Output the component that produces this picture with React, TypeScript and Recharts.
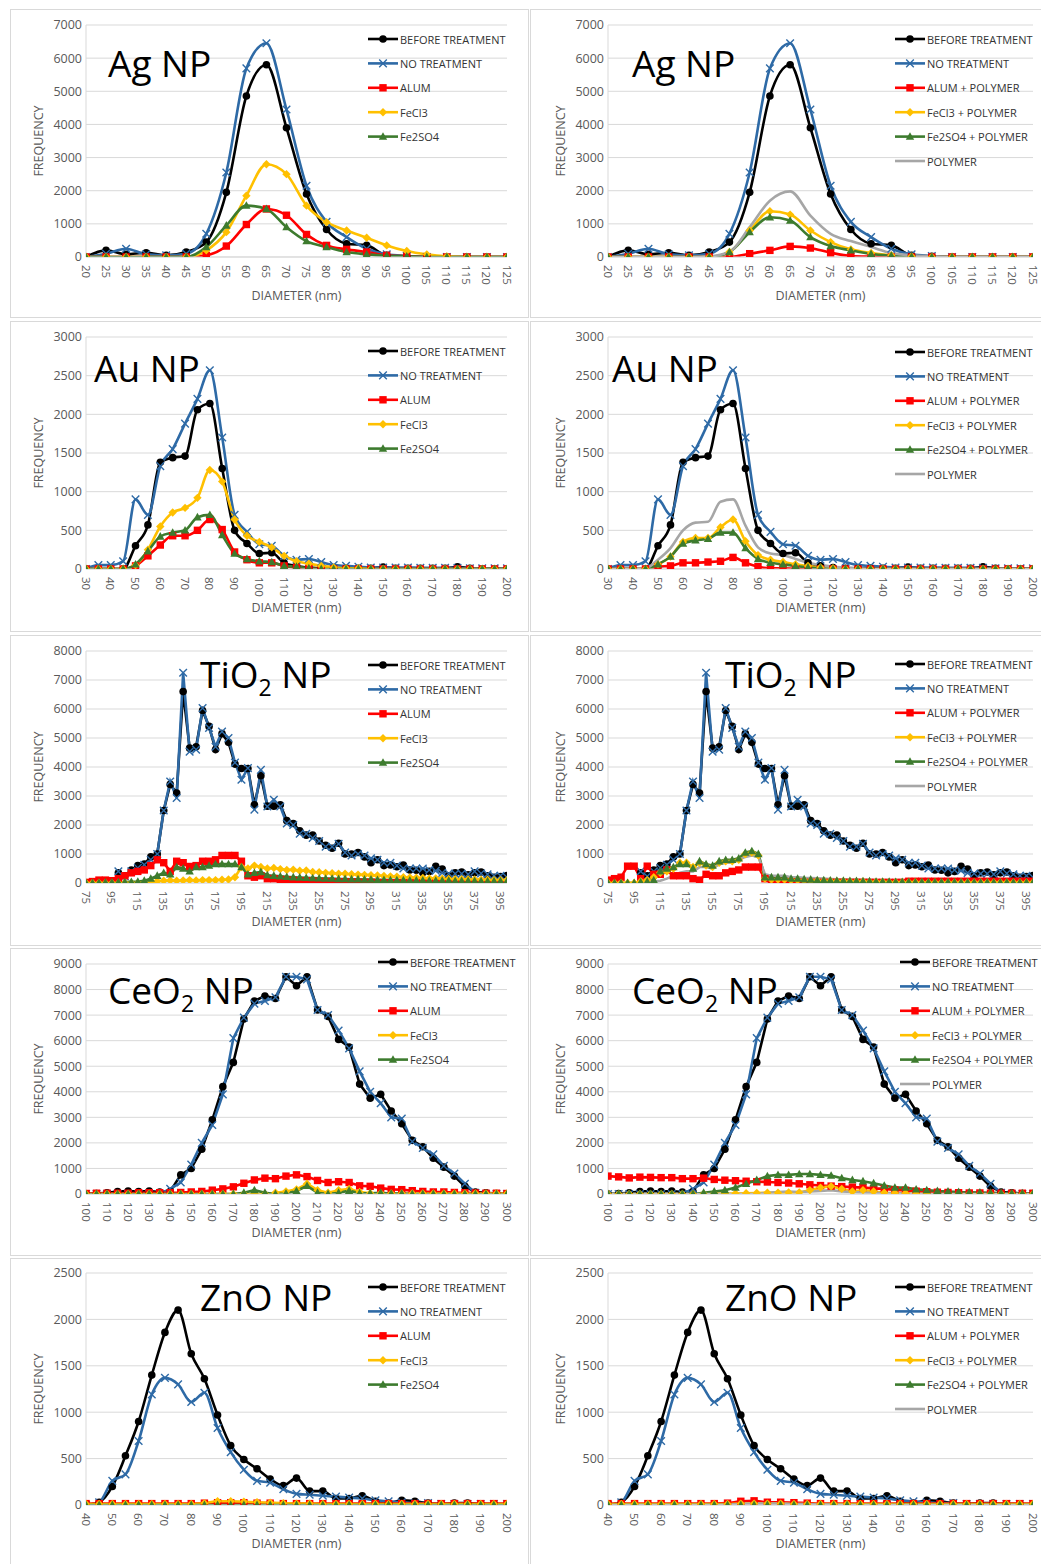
import React from 'react';
import { LineChart, Line, XAxis, YAxis, CartesianGrid } from 'recharts';

// ---------- Ag NP ----------
const agX = [20, 25, 30, 35, 40, 45, 50, 55, 60, 65, 70, 75, 80, 85, 90, 95, 100, 105, 110, 115, 120, 125];
const agXTicks = [20, 25, 30, 35, 40, 45, 50, 55, 60, 65, 70, 75, 80, 85, 90, 95, 100, 105, 110, 115, 120, 125];
const agYTicks = [0, 1000, 2000, 3000, 4000, 5000, 6000, 7000];
const agBefore = [0, 200, 80, 130, 50, 150, 450, 1950, 4860, 5800, 3900, 1900, 830, 400, 350, 50, 20, 0, 0, 0, 0, 0];
const agNoTreat = [0, 100, 250, 80, 50, 100, 700, 2550, 5690, 6450, 4450, 2150, 1060, 600, 250, 80, 30, 0, 0, 0, 0, 0];
const agAlum = [0, 0, 0, 0, 0, 0, 50, 330, 980, 1450, 1260, 680, 350, 230, 150, 50, 20, 0, 0, 0, 0, 0];
const agFeCl3 = [0, 0, 0, 0, 0, 0, 200, 750, 1850, 2800, 2500, 1550, 1050, 800, 580, 350, 180, 80, 20, 0, 0, 0];
const agFe2SO4 = [0, 0, 0, 0, 0, 0, 300, 950, 1550, 1450, 900, 480, 300, 150, 80, 40, 20, 0, 0, 0, 0, 0];
const agAlumPoly = [0, 0, 0, 0, 0, 0, 0, 100, 200, 320, 270, 130, 30, 10, 0, 0, 0, 0, 0, 0, 0, 0];
const agFeCl3Poly = [0, 0, 0, 0, 0, 0, 150, 800, 1380, 1280, 800, 450, 230, 120, 50, 20, 0, 0, 0, 0, 0, 0];
const agFe2SO4Poly = [0, 0, 0, 0, 0, 0, 150, 750, 1200, 1100, 600, 330, 200, 90, 40, 10, 0, 0, 0, 0, 0, 0];
const agPolymer = [0, 0, 0, 0, 0, 20, 150, 900, 1700, 1980, 1250, 700, 480, 300, 120, 50, 20, 0, 0, 0, 0, 0];

// ---------- Au NP ----------
const auX = [30, 35, 40, 45, 50, 55, 60, 65, 70, 75, 80, 85, 90, 95, 100, 105, 110, 115, 120, 125,
  130, 135, 140, 145, 150, 155, 160, 165, 170, 175, 180, 185, 190, 195, 200];
const auXTicks = [30, 40, 50, 60, 70, 80, 90, 100, 110, 120, 130, 140, 150, 160, 170, 180, 190, 200];
const auYTicks = [0, 500, 1000, 1500, 2000, 2500, 3000];
const auBefore = [0, 0, 0, 0, 300, 570, 1380, 1440, 1460, 2060, 2140, 1300, 500, 330, 200, 210, 80, 40, 20, 10,
  10, 10, 10, 10, 25, 10, 10, 10, 10, 10, 30, 10, 0, 0, 0];
const auNoTreat = [0, 50, 50, 100, 900, 700, 1330, 1550, 1880, 2200, 2570, 1700, 700, 480, 320, 300, 170, 120, 130, 90,
  50, 40, 30, 20, 20, 20, 20, 15, 15, 15, 15, 10, 10, 10, 10];
const auAlum = [0, 0, 0, 0, 40, 170, 310, 430, 430, 500, 640, 510, 220, 120, 80, 80, 40, 20, 10, 0,
  0, 0, 0, 0, 0, 0, 0, 0, 0, 0, 0, 0, 0, 0, 0];
const auFeCl3 = [0, 0, 0, 0, 50, 250, 550, 730, 790, 920, 1280, 1130, 640, 430, 350, 280, 170, 100, 70, 40,
  20, 10, 10, 0, 0, 0, 0, 0, 0, 0, 0, 0, 0, 0, 0];
const auFe2SO4 = [0, 0, 0, 0, 60, 230, 420, 470, 500, 670, 700, 440, 200, 130, 100, 90, 40, 30, 10, 0,
  0, 0, 0, 0, 0, 0, 0, 0, 0, 0, 0, 0, 0, 0, 0];
const auAlumPoly = [0, 0, 0, 0, 30, 40, 80, 80, 90, 100, 150, 80, 30, 10, 10, 0, 0, 0, 0, 0,
  0, 0, 0, 0, 0, 0, 0, 0, 0, 0, 0, 0, 0, 0, 0];
const auFeCl3Poly = [0, 0, 0, 0, 60, 160, 350, 400, 400, 540, 640, 360, 180, 120, 90, 60, 40, 20, 10, 0,
  0, 0, 0, 0, 0, 0, 0, 0, 0, 0, 0, 0, 0, 0, 0];
const auFe2SO4Poly = [0, 0, 0, 0, 60, 160, 330, 370, 390, 470, 470, 270, 130, 80, 60, 40, 20, 10, 0, 0,
  0, 0, 0, 0, 0, 0, 0, 0, 0, 0, 0, 0, 0, 0, 0];
const auPolymer = [0, 0, 0, 10, 120, 270, 500, 600, 610, 870, 900, 560, 280, 200, 180, 130, 80, 50, 30, 20,
  10, 0, 0, 0, 0, 0, 0, 0, 0, 0, 0, 0, 0, 0, 0];

// ---------- TiO2 NP ----------
const tiX = [75, 80, 85, 90, 95, 100, 105, 110, 115, 120,
  125, 130, 135, 140, 145, 150, 155, 160, 165, 170,
  175, 180, 185, 190, 195, 200, 205, 210, 215, 220,
  225, 230, 235, 240, 245, 250, 255, 260, 265, 270,
  275, 280, 285, 290, 295, 300, 305, 310, 315, 320,
  325, 330, 335, 340, 345, 350, 355, 360, 365, 370,
  375, 380, 385, 390, 395, 400];
const tiXTicks = [75, 95, 115, 135, 155, 175, 195, 215, 235, 255, 275, 295, 315, 335, 355, 375, 395];
const tiYTicks = [0, 1000, 2000, 3000, 4000, 5000, 6000, 7000, 8000];
const tiBefore = [null, null, null, null, null, 350, 250, 450, 600, 650,
  900, 1000, 2500, 3400, 3100, 6600, 4650, 4700, 5950, 5400,
  4600, 5150, 4850, 4100, 3950, 3950, 2700, 3700, 2650, 2650,
  2700, 2150, 2050, 1800, 1650, 1650, 1450, 1300, 1200, 1370,
  1000, 1000, 1050, 900, 700, 800, 600, 620, 560, 620,
  450, 440, 350, 400, 580, 480, 250, 350, 380, 280,
  350, 380, 250, 200, 220, 260];
const tiNoTreat = [null, null, null, null, null, 400, 230, 400, 520, 630,
  800, 1000, 2500, 3500, 2930, 7250, 4530, 4600, 6030, 5350,
  4700, 5220, 5000, 4150, 3560, 3960, 2530, 3900, 2640, 2870,
  2640, 2050, 2000, 1700, 1700, 1550, 1450, 1250, 1250, 1350,
  1050, 950, 1000, 950, 850, 800, 700, 700, 600, 500,
  500, 500, 500, 450, 420, 350, 330, 320, 320, 300,
  400, 330, 300, 250, 250, 200];
const tiAlum = [20, 50, 100, 100, 80, 150, 250, 350, 400, 450,
  600, 800, 700, 400, 750, 700, 570, 600, 750, 750,
  800, 950, 950, 950, 750, 250, 200, 250, 150, 150,
  120, 100, 90, 80, 70, 60, 50, 50, 40, 40,
  30, 30, 20, 20, 20, 10, 10, 10, 10, 0,
  0, 0, 0, 0, 0, 0, 0, 0, 0, 0,
  0, 0, 0, 0, 0, 0];
const tiFeCl3 = [0, 0, 0, 0, 0, 0, 0, 0, 0, 0,
  20, 60, 80, 90, 80, 90, 100, 90, 100, 100,
  100, 110, 120, 200, 550, 500, 600, 550, 500, 520,
  480, 450, 460, 420, 430, 380, 370, 350, 340, 320,
  320, 300, 290, 280, 270, 260, 240, 230, 220, 200,
  190, 180, 170, 160, 160, 150, 140, 130, 130, 120,
  120, 110, 110, 100, 100, 100];
const tiFe2SO4 = [0, 0, 10, 20, 20, 30, 30, 40, 50, 80,
  150, 250, 350, 300, 550, 500, 400, 550, 550, 600,
  650, 650, 650, 650, 550, 300, 350, 380, 270, 250,
  230, 210, 200, 190, 180, 170, 160, 150, 150, 140,
  140, 130, 130, 120, 120, 110, 110, 100, 100, 100,
  90, 90, 90, 80, 80, 80, 80, 70, 70, 70,
  70, 60, 60, 60, 60, 60];
const tiAlumPoly = [100, 150, 200, 580, 580, 150, 580, 300, 300, 450,
  250, 250, 250, 150, 100, 300, 250, 250, 350, 400,
  450, 550, 550, 550, 150, 50, 50, 50, 40, 30,
  20, 20, 20, 20, 20, 20, 20, 20, 20, 20,
  20, 20, 20, 20, 20, 20, 60, 60, 60, 60,
  60, 60, 60, 60, 60, 60, 60, 60, 60, 60,
  60, 60, 60, 60, 60, 60];
const tiFeCl3Poly = [0, 0, 0, 0, 0, 50, 100, 200, 350, 400,
  500, 700, 700, 550, 700, 600, 550, 700, 750, 750,
  800, 1000, 1050, 950, 150, 120, 120, 120, 100, 100,
  90, 80, 80, 70, 70, 60, 60, 50, 50, 50,
  40, 40, 40, 30, 30, 30, 30, 30, 20, 20,
  20, 20, 20, 20, 20, 20, 20, 20, 20, 20,
  20, 20, 20, 20, 20, 20];
const tiFe2SO4Poly = [0, 0, 0, 0, 0, 30, 50, 100, 400, 500,
  550, 650, 650, 500, 750, 650, 600, 750, 800, 800,
  850, 1050, 1100, 1000, 200, 200, 200, 200, 150, 150,
  130, 120, 100, 100, 90, 80, 80, 70, 70, 60,
  60, 50, 50, 50, 40, 40, 40, 30, 30, 30,
  30, 30, 30, 30, 20, 20, 20, 20, 20, 20,
  20, 20, 20, 20, 20, 20];
const tiPolymer = [0, 0, 0, 0, 0, 20, 30, 50, 80, 150,
  250, 350, 400, 400, 550, 550, 500, 650, 700, 700,
  800, 900, 950, 900, 300, 250, 250, 250, 200, 200,
  180, 170, 160, 150, 140, 130, 130, 120, 120, 110,
  110, 100, 100, 100, 100, 100, 90, 90, 90, 90,
  90, 90, 80, 80, 80, 80, 80, 80, 80, 80,
  80, 80, 80, 80, 80, 80];

// ---------- CeO2 NP ----------
const ceX = [100, 105, 110, 115, 120, 125, 130, 135, 140, 145,
  150, 155, 160, 165, 170, 175, 180, 185, 190, 195,
  200, 205, 210, 215, 220, 225, 230, 235, 240, 245,
  250, 255, 260, 265, 270, 275, 280, 285, 290, 295, 300];
const ceXTicks = [100, 110, 120, 130, 140, 150, 160, 170, 180, 190, 200, 210, 220, 230, 240, 250, 260, 270, 280, 290, 300];
const ceYTicks = [0, 1000, 2000, 3000, 4000, 5000, 6000, 7000, 8000, 9000];
const ceBefore = [0, 20, 50, 100, 120, 100, 120, 80, 100, 750,
  1000, 1750, 2900, 4200, 5150, 6850, 7550, 7750, 7650, 8500,
  8150, 8500, 7200, 6950, 6050, 5750, 4300, 3750, 3900, 3250,
  2750, 2100, 1850, 1400, 1050, 700, 300, 80, 50, 20, 0];
const ceNoTreat = [0, 0, 0, 0, 0, 0, 0, 0, 200, 450,
  1150, 2000, 2700, 3900, 6100, 6900, 7450, 7550, 7700, 8500,
  8500, 8400, 7200, 7000, 6400, 5700, 4800, 4000, 3550, 3000,
  2950, 2050, 1800, 1550, 1100, 800, 400, 50, 0, 0, 0];
const ceAlum = [20, 30, 30, 30, 30, 50, 50, 50, 50, 60,
  80, 100, 150, 200, 280, 420, 550, 620, 600, 700,
  750, 680, 530, 450, 480, 450, 320, 300, 230, 180,
  170, 130, 100, 80, 80, 60, 50, 40, 30, 30, 20];
const ceFeCl3 = [0, 0, 0, 0, 0, 0, 0, 0, 0, 0,
  0, 0, 0, 0, 0, 0, 0, 0, 50, 100,
  180, 400, 150, 50, 150, 200, 80, 30, 30, 20,
  20, 20, 20, 20, 20, 20, 20, 20, 20, 20, 20];
const ceFe2SO4 = [0, 0, 0, 0, 0, 0, 0, 0, 0, 0,
  0, 0, 0, 0, 0, 50, 150, 50, 0, 20,
  120, 320, 50, 0, 50, 130, 30, 30, 50, 20,
  20, 0, 0, 0, 0, 0, 0, 0, 0, 0, 0];
const ceAlumPoly = [700, 670, 630, 660, 650, 640, 640, 600, 600, 620,
  570, 540, 520, 500, 480, 470, 450, 430, 400, 360,
  330, 310, 290, 270, 250, 220, 200, 160, 140, 110,
  90, 70, 60, 50, 40, 40, 30, 30, 30, 30, 30];
const ceFeCl3Poly = [0, 0, 0, 0, 0, 0, 0, 0, 0, 0,
  20, 20, 20, 30, 40, 50, 50, 60, 60, 150,
  250, 300, 200, 100, 150, 100, 50, 40, 30, 0,
  0, 0, 0, 0, 0, 0, 0, 0, 0, 0, 0];
const ceFe2SO4Poly = [0, 0, 0, 0, 0, 0, 0, 0, 0, 50,
  100, 150, 250, 400, 550, 700, 750, 750, 780, 780,
  750, 720, 620, 550, 500, 420, 330, 250, 250, 180,
  150, 120, 100, 80, 70, 60, 50, 40, 30, 30, 20];
const cePolymer = [0, 0, 0, 0, 0, 0, 0, 0, 0, 0,
  0, 0, 0, 0, 0, 50, 80, 100, 80, 100,
  120, 150, 100, 80, 60, 50, 40, 30, 20, 0,
  0, 0, 0, 0, 0, 0, 0, 0, 0, 0, 0];

// ---------- ZnO NP ----------
const znX = [40, 45, 50, 55, 60, 65, 70, 75, 80, 85,
  90, 95, 100, 105, 110, 115, 120, 125, 130, 135,
  140, 145, 150, 155, 160, 165, 170, 175, 180, 185,
  190, 195, 200];
const znXTicks = [40, 50, 60, 70, 80, 90, 100, 110, 120, 130, 140, 150, 160, 170, 180, 190, 200];
const znYTicks = [0, 500, 1000, 1500, 2000, 2500];
const znBefore = [0, 30, 200, 530, 900, 1400, 1860, 2100, 1630, 1360,
  970, 640, 490, 390, 280, 210, 290, 150, 150, 70,
  70, 100, 40, 20, 50, 40, 20, 10, 20, 20,
  10, 10, 0];
const znNoTreat = [0, 30, 260, 330, 690, 1190, 1370, 1300, 1110, 1210,
  830, 570, 380, 260, 240, 170, 120, 110, 100, 90,
  80, 70, 50, 40, 30, 20, 20, 10, 10, 10,
  10, 10, 10];
const znAlum = [15, 15, 15, 15, 15, 15, 15, 15, 15, 20,
  25, 25, 25, 20, 20, 15, 15, 15, 15, 15,
  15, 15, 15, 15, 15, 15, 15, 15, 15, 15,
  15, 15, 15];
const znFeCl3 = [10, 10, 10, 10, 10, 10, 10, 10, 10, 20,
  40, 40, 35, 30, 25, 20, 15, 15, 10, 10,
  10, 10, 10, 10, 10, 10, 10, 10, 10, 10,
  10, 10, 10];
const znFe2SO4 = [0, 0, 0, 0, 0, 0, 0, 0, 0, 0,
  0, 0, 0, 0, 0, 0, 0, 0, 0, 0,
  0, 0, 0, 0, 0, 0, 0, 0, 0, 0,
  0, 0, 0];
const znAlumPoly = [15, 15, 15, 15, 15, 15, 15, 15, 15, 20,
  40, 45, 30, 30, 25, 20, 15, 15, 15, 15,
  15, 15, 15, 15, 15, 15, 15, 15, 15, 15,
  15, 15, 15];
const znFeCl3Poly = [10, 10, 10, 10, 10, 10, 10, 10, 10, 10,
  15, 15, 15, 15, 10, 10, 10, 10, 10, 10,
  10, 10, 10, 10, 10, 10, 10, 10, 10, 10,
  10, 10, 10];
const znFe2SO4Poly = [0, 0, 0, 0, 0, 0, 0, 0, 0, 0,
  0, 0, 0, 0, 0, 0, 0, 0, 0, 0,
  0, 0, 0, 0, 0, 0, 0, 0, 0, 0,
  0, 0, 0];
const znPolymer = [0, 0, 0, 0, 0, 0, 0, 0, 0, 5,
  10, 15, 15, 15, 10, 10, 5, 5, 0, 0,
  0, 0, 0, 0, 0, 0, 0, 0, 0, 0,
  0, 0, 0];

const LEFT_NAMES = ['BEFORE TREATMENT', 'NO TREATMENT', 'ALUM', 'FeCl3', 'Fe2SO4'];
const RIGHT_NAMES = ['BEFORE TREATMENT', 'NO TREATMENT', 'ALUM + POLYMER', 'FeCl3 + POLYMER', 'Fe2SO4 + POLYMER', 'POLYMER'];
const COLORS = ['#000000', '#2e6aa6', '#ff0000', '#ffc000', '#3d7b2e', '#a6a6a6'];
const SHAPES = ['circle', 'x', 'square', 'diamond', 'triangle', 'none'];

const FONT = "'Open Sans', Lato, sans-serif";
const TEXT_GRAY = '#595959';

function marker(shape: string, color: string, cx: number, cy: number, key?: string) {
  switch (shape) {
    case 'circle':
      return <circle key={key} cx={cx} cy={cy} r={3.8} fill={color} />;
    case 'x':
      return (
        <path key={key} d={`M${cx - 3.8},${cy - 3.8}L${cx + 3.8},${cy + 3.8}M${cx - 3.8},${cy + 3.8}L${cx + 3.8},${cy - 3.8}`}
          stroke={color} strokeWidth={1.4} fill="none" />
      );
    case 'square':
      return <rect key={key} x={cx - 3.7} y={cy - 3.7} width={7.4} height={7.4} fill={color} />;
    case 'diamond':
      return <path key={key} d={`M${cx},${cy - 4.2}L${cx + 4.2},${cy}L${cx},${cy + 4.2}L${cx - 4.2},${cy}Z`} fill={color} />;
    case 'triangle':
      return <path key={key} d={`M${cx},${cy - 4.4}L${cx + 4.2},${cy + 3.2}L${cx - 4.2},${cy + 3.2}Z`} fill={color} />;
    default:
      return <g key={key} />;
  }
}

const XTick = (props: any) => {
  const { x, y, payload } = props;
  const ty = y + 8;
  return (
    <text x={x} y={ty} transform={`rotate(90 ${x} ${ty})`} textAnchor="start" dominantBaseline="central"
      fontSize={11.5} fill={TEXT_GRAY} fontFamily={FONT}>
      {payload.value}
    </text>
  );
};

type Title = { a: string; sub?: string; b?: string };

function Panel(props: any) {
  const { col, row, x, xTicks, yTicks, series, names, curve, title, titleX, titleY, legendX, legendY } = props;
  const { left, width, plotLeft, plotRight } = col;
  const { top, height, plotTop, plotBottom } = row;
  const xAxisH = 30;
  const rows = x.map((d: number, i: number) => {
    const r: any = { d };
    series.forEach((s: (number | null)[], k: number) => { r['s' + k] = s[i]; });
    return r;
  });
  const t: Title = title;
  const fy = (plotTop + plotBottom) / 2;

  return (
    <div style={{ position: 'absolute', left, top, width, height }}>
      <LineChart width={width} height={height} data={rows}
        margin={{ top: plotTop, right: width - plotRight, left: 0, bottom: height - plotBottom - xAxisH }}>
        <CartesianGrid vertical={false} stroke="#d9d9d9" />
        <XAxis dataKey="d" type="number" domain={[x[0], x[x.length - 1]]} ticks={xTicks} interval={0}
          height={xAxisH} tickLine={false} tickSize={0} tickMargin={0} axisLine={{ stroke: '#d9d9d9' }}
          tick={<XTick />} allowDataOverflow />
        <YAxis type="number" domain={[0, yTicks[yTicks.length - 1]]} ticks={yTicks} interval={0} width={plotLeft}
          tickLine={false} tickSize={0} tickMargin={4} axisLine={{ stroke: '#d9d9d9' }}
          tick={{ fill: TEXT_GRAY, fontSize: 12.5, fontFamily: FONT }} allowDataOverflow />
        {series.map((_s: any, k: number) => (
          <Line key={k} dataKey={'s' + k} type={curve} stroke={COLORS[k]} strokeWidth={2.6}
            dot={SHAPES[k] === 'none' ? false : (p: any) =>
              p.cx == null || p.cy == null
                ? <g key={`e${k}-${p.index}`} />
                : marker(SHAPES[k], COLORS[k], p.cx, p.cy, `m${k}-${p.index}`)}
            activeDot={false} connectNulls={false} isAnimationActive={false} />
        ))}
      </LineChart>
      <svg width={width} height={height} style={{ position: 'absolute', left: 0, top: 0, pointerEvents: 'none' }}
        fontFamily={FONT}>
        <text x={titleX} y={titleY} fontSize={37} fill="#000">
          <tspan>{t.a}</tspan>
          {t.sub ? <tspan dy={8} fontSize={23}>{t.sub}</tspan> : null}
          {t.b ? <tspan dy={t.sub ? -8 : 0}>{t.b}</tspan> : null}
        </text>
        <text x={plotLeft - 48} y={fy} transform={`rotate(-90 ${plotLeft - 48} ${fy})`}
          textAnchor="middle" dominantBaseline="central" fontSize={12.5} fill={TEXT_GRAY}>FREQUENCY</text>
        <text x={(plotLeft + plotRight) / 2} y={plotBottom + 38} textAnchor="middle" dominantBaseline="central"
          fontSize={12.5} fill={TEXT_GRAY}>DIAMETER (nm)</text>
        {names.map((n: string, k: number) => {
          const y = legendY + k * 24.4;
          return (
            <g key={n}>
              <line x1={legendX} x2={legendX + 30} y1={y} y2={y} stroke={COLORS[k]} strokeWidth={2.6} />
              {marker(SHAPES[k], COLORS[k], legendX + 15, y)}
              <text x={legendX + 32} y={y} dominantBaseline="central" fontSize={11} fill="#333333">{n}</text>
            </g>
          );
        })}
      </svg>
    </div>
  );
}

const COL_L = { left: 0, width: 530, plotLeft: 86, plotRight: 507 };
const COL_R = { left: 530, width: 511, plotLeft: 78, plotRight: 503 };
const ROW1 = { top: 0, height: 318, plotTop: 25, plotBottom: 257 };
const ROW2 = { top: 320, height: 312, plotTop: 17, plotBottom: 249 };
const ROW3 = { top: 635, height: 311, plotTop: 16, plotBottom: 248 };
const ROW4 = { top: 948, height: 308, plotTop: 16, plotBottom: 246 };
const ROW5 = { top: 1258, height: 306, plotTop: 15, plotBottom: 247 };

const BOXES = [
  { top: 9, bottom: 318 },
  { top: 321, bottom: 632 },
  { top: 635, bottom: 946 },
  { top: 948, bottom: 1256 },
  { top: 1258, bottom: 1570 },
];

export default function App() {
  return (
    <div style={{ position: 'absolute', left: 0, top: 0, width: 1041, height: 1564, background: '#fff', overflow: 'hidden', fontFamily: FONT }}>
      {BOXES.map((b, i) => (
        <React.Fragment key={i}>
          <div style={{ position: 'absolute', left: 10, top: b.top, width: 519, height: b.bottom - b.top, border: '1px solid #d9d9d9', boxSizing: 'border-box' }} />
          <div style={{ position: 'absolute', left: 530, top: b.top, width: 520, height: b.bottom - b.top, border: '1px solid #d9d9d9', boxSizing: 'border-box' }} />
        </React.Fragment>
      ))}

      <Panel col={COL_L} row={ROW1} x={agX} xTicks={agXTicks} yTicks={agYTicks} curve="monotone"
        series={[agBefore, agNoTreat, agAlum, agFeCl3, agFe2SO4]} names={LEFT_NAMES}
        title={{ a: 'Ag NP' }} titleX={108} titleY={77} legendX={368} legendY={39} />
      <Panel col={COL_R} row={ROW1} x={agX} xTicks={agXTicks} yTicks={agYTicks} curve="monotone"
        series={[agBefore, agNoTreat, agAlumPoly, agFeCl3Poly, agFe2SO4Poly, agPolymer]} names={RIGHT_NAMES}
        title={{ a: 'Ag NP' }} titleX={102} titleY={77} legendX={365} legendY={39} />

      <Panel col={COL_L} row={ROW2} x={auX} xTicks={auXTicks} yTicks={auYTicks} curve="monotone"
        series={[auBefore, auNoTreat, auAlum, auFeCl3, auFe2SO4]} names={LEFT_NAMES}
        title={{ a: 'Au NP' }} titleX={94} titleY={62} legendX={368} legendY={31} />
      <Panel col={COL_R} row={ROW2} x={auX} xTicks={auXTicks} yTicks={auYTicks} curve="monotone"
        series={[auBefore, auNoTreat, auAlumPoly, auFeCl3Poly, auFe2SO4Poly, auPolymer]} names={RIGHT_NAMES}
        title={{ a: 'Au NP' }} titleX={82} titleY={62} legendX={365} legendY={32} />

      <Panel col={COL_L} row={ROW3} x={tiX} xTicks={tiXTicks} yTicks={tiYTicks} curve="linear"
        series={[tiBefore, tiNoTreat, tiAlum, tiFeCl3, tiFe2SO4]} names={LEFT_NAMES}
        title={{ a: 'TiO', sub: '2', b: ' NP' }} titleX={200} titleY={53} legendX={368} legendY={30} />
      <Panel col={COL_R} row={ROW3} x={tiX} xTicks={tiXTicks} yTicks={tiYTicks} curve="linear"
        series={[tiBefore, tiNoTreat, tiAlumPoly, tiFeCl3Poly, tiFe2SO4Poly, tiPolymer]} names={RIGHT_NAMES}
        title={{ a: 'TiO', sub: '2', b: ' NP' }} titleX={195} titleY={53} legendX={365} legendY={29} />

      <Panel col={COL_L} row={ROW4} x={ceX} xTicks={ceXTicks} yTicks={ceYTicks} curve="linear"
        series={[ceBefore, ceNoTreat, ceAlum, ceFeCl3, ceFe2SO4]} names={LEFT_NAMES}
        title={{ a: 'CeO', sub: '2', b: ' NP' }} titleX={108} titleY={56} legendX={378} legendY={14} />
      <Panel col={COL_R} row={ROW4} x={ceX} xTicks={ceXTicks} yTicks={ceYTicks} curve="linear"
        series={[ceBefore, ceNoTreat, ceAlumPoly, ceFeCl3Poly, ceFe2SO4Poly, cePolymer]} names={RIGHT_NAMES}
        title={{ a: 'CeO', sub: '2', b: ' NP' }} titleX={102} titleY={56} legendX={370} legendY={14} />

      <Panel col={COL_L} row={ROW5} x={znX} xTicks={znXTicks} yTicks={znYTicks} curve="monotone"
        series={[znBefore, znNoTreat, znAlum, znFeCl3, znFe2SO4]} names={LEFT_NAMES}
        title={{ a: 'ZnO NP' }} titleX={200} titleY={53} legendX={368} legendY={29} />
      <Panel col={COL_R} row={ROW5} x={znX} xTicks={znXTicks} yTicks={znYTicks} curve="monotone"
        series={[znBefore, znNoTreat, znAlumPoly, znFeCl3Poly, znFe2SO4Poly, znPolymer]} names={RIGHT_NAMES}
        title={{ a: 'ZnO NP' }} titleX={195} titleY={53} legendX={365} legendY={29} />
    </div>
  );
}
